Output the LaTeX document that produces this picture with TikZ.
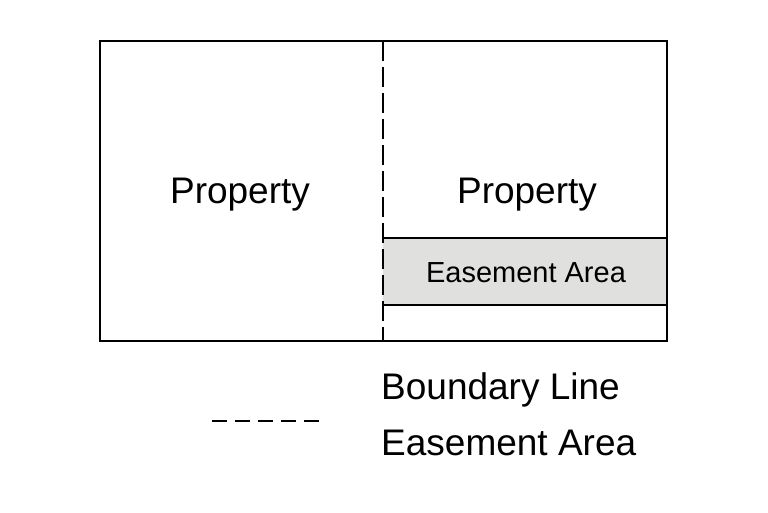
\documentclass[tikz,border=0pt]{standalone}
\usepackage{fontspec}
\setmainfont{Liberation Sans}
\usetikzlibrary{positioning}
\definecolor{easegray}{HTML}{E0E1DF}
\tikzset{
     plot/.style={draw, line width=2.5pt},
     label big/.style={inner sep=0pt, font=\fontsize{37}{44}\selectfont},
     label small/.style={inner sep=0pt, font=\fontsize{29}{35}\selectfont},
     boundary/.style={line width=2.5pt, dash pattern=on 20pt off 6pt},
     legend dash/.style={line width=2.5pt, dash pattern=on 15pt off 8pt}
     }
\begin{document}
\begin{tikzpicture}[x=1pt, y=-1pt]
    \useasboundingbox (0,0) rectangle (768,512);
    % plots
    \coordinate (nw) at (100,41);
    \coordinate (se) at (667,341);
    \coordinate (bt) at (383,41);
    \coordinate (bb) at (383,341);
    \fill [easegray] (383,238) rectangle (667,305);
    \draw [plot] (383,238) -- (667,238);
    \draw [plot] (383,305) -- (667,305);
    \draw [plot] (nw) rectangle (se);
    \draw [boundary] (bt) -- (bb);

    \node [label big] (left) at (240,195) {Property};
    \node [label big] (right) at (527,195) {Property};
    \node [label small] (ease) at (526,273) {Easement Area};

    % legend
    \coordinate (ls) at (212,421);
    \coordinate (le) at (322,421);
    \draw [legend dash] (ls) -- (le);
    \node [label big, anchor=west] (lbound) at (381,390) {Boundary Line};
    \node [label big, anchor=west] (lease) at (381,443) {Easement Area};
\end{tikzpicture}
\end{document}
